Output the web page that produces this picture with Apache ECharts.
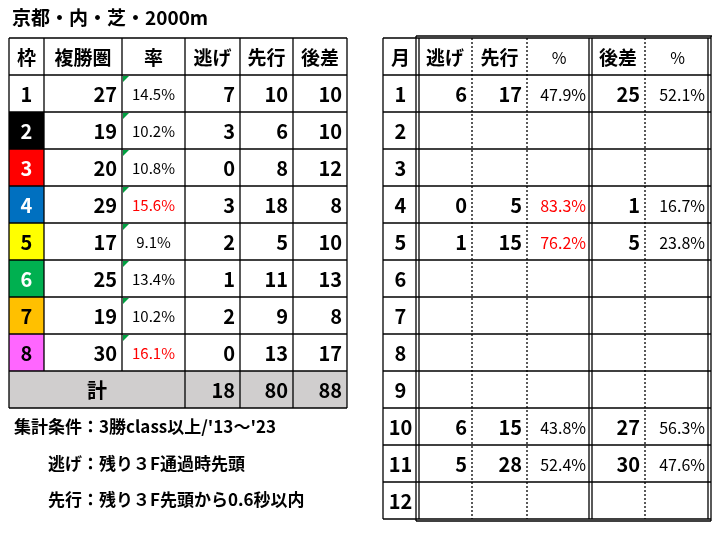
<!DOCTYPE html>
<html><head><meta charset="utf-8">
<script src="https://cdn.jsdelivr.net/npm/echarts@6/dist/echarts.min.js"></script>
<style>html,body{margin:0;padding:0;background:#fff}#c{width:721px;height:534px}</style>
</head><body><div id="c"></div>
<script>
const title = "京都・内・芝・2000m";
const leftHeaders = ["枠","複勝圏","率","逃げ","先行","後差"];
const gates = ["1","2","3","4","5","6","7","8"];
const placeCounts = [27,19,20,29,17,25,19,30];
const placeRates = ["14.5%","10.2%","10.8%","15.6%","9.1%","13.4%","10.2%","16.1%"];
const nige = [7,3,0,3,2,1,2,0];
const senko = [10,6,8,18,5,11,9,13];
const sasi = [10,10,12,8,10,13,8,17];
const totals = ["計",18,80,88];
const rightHeaders = ["月","逃げ","先行","%","後差","%"];
const months = ["1","2","3","4","5","6","7","8","9","10","11","12"];
const mNige = [6,"","",0,1,"","","","",6,5,""];
const mSenko = [17,"","",5,15,"","","","",15,28,""];
const mFrontPct = ["47.9%","","","83.3%","76.2%","","","","","43.8%","52.4%",""];
const mSasi = [25,"","",1,5,"","","","",27,30,""];
const mSasiPct = ["52.1%","","","16.7%","23.8%","","","","","56.3%","47.6%",""];
const notes = ["集計条件：3勝class以上/'13～'23","逃げ：残り３F通過時先頭","先行：残り３F先頭から0.6秒以内"];

const gateBg = ["#ffffff","#000000","#ff0000","#0070c0","#ffff00","#00b050","#ffc000","#ff66ff"];
const gateFg = ["#000","#fff","#fff","#fff","#000","#fff","#000","#000"];
const F = '"Noto Sans CJK JP", sans-serif';
const els = [];
function rect(x,y,w,h,fill){els.push({type:'rect',shape:{x:x,y:y,width:w,height:h},style:{fill:fill},silent:true});}
function line(x1,y1,x2,y2,dash,w){els.push({type:'line',shape:{x1:x1,y1:y1,x2:x2,y2:y2},style:{stroke:'#000',lineWidth:w||1.3,lineDash:dash?[2,2]:null},silent:true});}
function text(t,x,y,align,size,color,weight){els.push({type:'text',x:x,y:y,style:{text:String(t),font:(weight||'bold')+' '+size+'px '+F,fill:color||'#000',textAlign:align,textVerticalAlign:'middle'},silent:true});}

text(title,12,18,'left',19,'#000');

const LX=[9,44,122,185,240,293,347]; const tY=38, hh=37, rh=37;
const rowY=i=>tY+hh+i*rh;
for(let i=0;i<8;i++){ rect(LX[0],rowY(i),LX[1]-LX[0],rh,gateBg[i]); }
rect(LX[0],rowY(8),LX[6]-LX[0],rh,'#d0cece');
function cell(t,c,yc,opts){opts=opts||{};
  const a=opts.align||'right'; let x = a==='center'?(LX[c]+LX[c+1])/2:LX[c+1]-5;
  text(t,x,yc,a,opts.size||20,opts.color,opts.weight);}
leftHeaders.forEach((h,c)=>cell(h,c,tY+hh/2+1,{align:'center',size:19}));
for(let i=0;i<8;i++){const yc=rowY(i)+rh/2+1;
  cell(gates[i],0,yc,{align:'center',color:gateFg[i]});
  cell(placeCounts[i],1,yc);
  const r=parseFloat(placeRates[i]);
  cell(placeRates[i],2,yc,{align:'center',size:15,weight:'normal',color:r>=15?'#ff0000':'#000'});
  cell(nige[i],3,yc); cell(senko[i],4,yc); cell(sasi[i],5,yc);
  els.push({type:'polygon',shape:{points:[[LX[2]+1,rowY(i)+1],[LX[2]+7,rowY(i)+1],[LX[2]+1,rowY(i)+7]]},style:{fill:'#00a040'},silent:true});
}
{const yc=rowY(8)+rh/2+1; text(totals[0],(LX[0]+LX[3])/2,yc,'center',20);
 cell(totals[1],3,yc);cell(totals[2],4,yc);cell(totals[3],5,yc);}
line(LX[0],tY,LX[6],tY);
for(let i=0;i<=9;i++){ line(LX[0],rowY(i),LX[6],rowY(i)); }
LX.forEach((x,c)=>{ if(c===1||c===2) line(x,tY,x,rowY(8)); else line(x,tY,x,rowY(9)); });

text(notes[0],14,427,'left',17);
text(notes[1],48,464,'left',17);
text(notes[2],48,500,'left',17);

const RX=[383,418,472,527,591,645,710]; const rtop=38;
const rY=i=>rtop+hh+i*rh;
function rcell(t,c,yc,opts){opts=opts||{};const a=opts.align||'right';
  let x=a==='center'?(RX[c]+RX[c+1])/2:RX[c+1]-5; text(t,x,yc,a,opts.size||20,opts.color,opts.weight);}
rightHeaders.forEach((h,c)=>rcell(h,c,rtop+hh/2+1,{align:'center',size:c===3||c===5?16:19,weight:c===3||c===5?'normal':'bold'}));
for(let i=0;i<12;i++){const yc=rY(i)+rh/2+1;
  rcell(months[i],0,yc,{align:'center'});
  rcell(mNige[i],1,yc); rcell(mSenko[i],2,yc);
  const p=parseFloat(mFrontPct[i]);
  rcell(mFrontPct[i],3,yc,{size:16,weight:'normal',color:p>=60?'#ff0000':'#000'});
  rcell(mSasi[i],4,yc); rcell(mSasiPct[i],5,yc,{size:16,weight:'normal',color:parseFloat(mSasiPct[i])>=60?'#ff0000':'#000'});
}
const rBottom=rY(12);
line(RX[0],rtop,RX[6]+1,rtop);
for(let i=0;i<=12;i++){ line(RX[0],rY(i),RX[6]+1,rY(i)); }
line(416,rtop-2,RX[6]+2,rtop-2);
line(RX[0],rtop,RX[0],rBottom);
line(416,rtop-2,416,rBottom+2); line(419,rtop,419,rBottom);
line(RX[2],rtop,RX[2],rBottom,true); line(RX[3],rtop,RX[3],rBottom,true);
line(589,rtop,589,rBottom); line(592,rtop,592,rBottom);
line(RX[5],rtop,RX[5],rBottom,true);
line(708,rtop,708,rBottom); line(711,rtop-2,711,rBottom+2);
line(416,rBottom+2,711,rBottom+2);

const chart=echarts.init(document.getElementById('c'),null,{renderer:'canvas'});
chart.setOption({animation:false,backgroundColor:'#fff',graphic:{elements:els}});
</script></body></html>
